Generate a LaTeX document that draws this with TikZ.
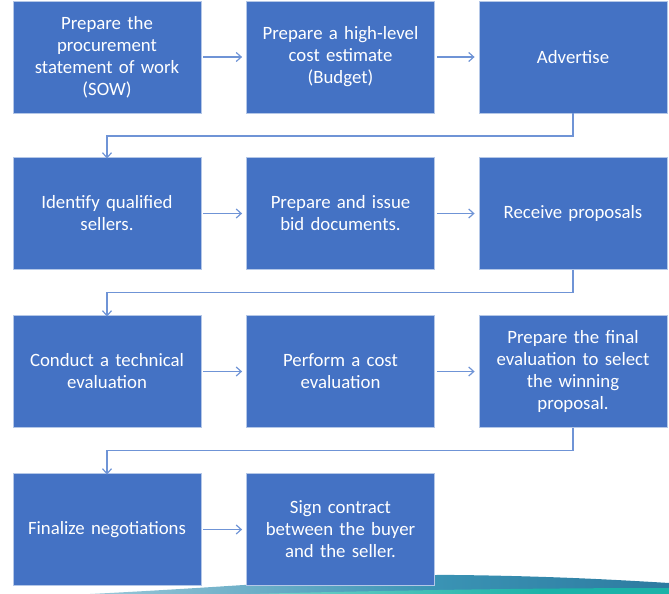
\documentclass[tikz,border=0pt]{standalone}
\usepackage{fontspec}
\setmainfont{Carlito}
\usetikzlibrary{arrows.meta}
\definecolor{boxblue}{HTML}{4472C4}
\definecolor{boxedge}{HTML}{B4C7E7}
\definecolor{arrowblue}{HTML}{6F94D6}
\definecolor{waveL}{HTML}{EAF5F8}
\definecolor{waveM}{HTML}{3A93B4}
\definecolor{waveR}{HTML}{1D5C88}
\definecolor{tealband}{HTML}{1CB3A8}
\pgfdeclarehorizontalshading{waveshade}{100bp}{
  color(0bp)=(waveL); color(30bp)=(waveM!60!white); color(55bp)=(waveM); color(100bp)=(waveR)}
\pgfdeclarehorizontalshading{tealshade}{100bp}{
  color(0bp)=(white); color(25bp)=(tealband!60!white); color(60bp)=(tealband); color(100bp)=(tealband)}
\tikzset{
  stepbox/.style={draw=boxedge, line width=0.8pt, fill=boxblue, minimum width=188pt, minimum height=112pt,
    text width=176pt, align=center, text=white, inner sep=0pt,
    font=\fontsize{18.8}{22}\selectfont},
  flow/.style={draw=arrowblue, line width=1.3pt, -{Straight Barb[length=5pt,width=9pt,line width=1.2pt]}}
}
\begin{document}
\begin{tikzpicture}[x=1pt,y=-1pt]
\useasboundingbox (0,0) rectangle (669,594);
% decorative wave
\path[shading=waveshade] (90,594) .. controls (250,586) and (380,574) .. (455,575)
  .. controls (550,576) and (620,580) .. (669,583) -- (669,594) -- cycle;
\path[shading=tealshade] (250,594) .. controls (400,590) and (550,588) .. (669,588) -- (669,594) -- cycle;
% boxes
\node[stepbox] (b1) at (107,57) {Prepare the\\procurement\\statement of work\\(SOW)};
\node[stepbox] (b2) at (340.5,57) {Prepare a high-level\\cost estimate\\(Budget)};
\node[stepbox] (b3) at (573,57) {Advertise};
\node[stepbox] (b4) at (107,213.5) {Identify qualified\\sellers.};
\node[stepbox] (b5) at (340.5,213.5) {Prepare and issue\\bid documents.};
\node[stepbox] (b6) at (573,213.5) {Receive proposals};
\node[stepbox] (b7) at (107,371.5) {Conduct a technical\\evaluation};
\node[stepbox] (b8) at (340.5,371.5) {Perform a cost\\evaluation};
\node[stepbox] (b9) at (573,371.5) {Prepare the final\\evaluation to select\\the winning\\proposal.};
\node[stepbox] (b10) at (107,529.5) {Finalize negotiations};
\node[stepbox] (b11) at (340.5,529.5) {Sign contract\\between the buyer\\and the seller.};
% horizontal arrows
\foreach \a/\b in {b1/b2,b2/b3,b4/b5,b5/b6,b7/b8,b8/b9,b10/b11}
  \draw[flow] ([xshift=2pt]\a.east) -- ([xshift=-4pt]\b.west);
% row-to-row connectors
\draw[flow] (b3.south) -- ++(0,22.5) -| ([yshift=-1.5pt]b4.north);
\draw[flow] (b6.south) -- ++(0,22.5) -| ([yshift=-1.5pt]b7.north);
\draw[flow] (b9.south) -- ++(0,22.5) -| ([yshift=-1.5pt]b10.north);
\end{tikzpicture}
\end{document}
